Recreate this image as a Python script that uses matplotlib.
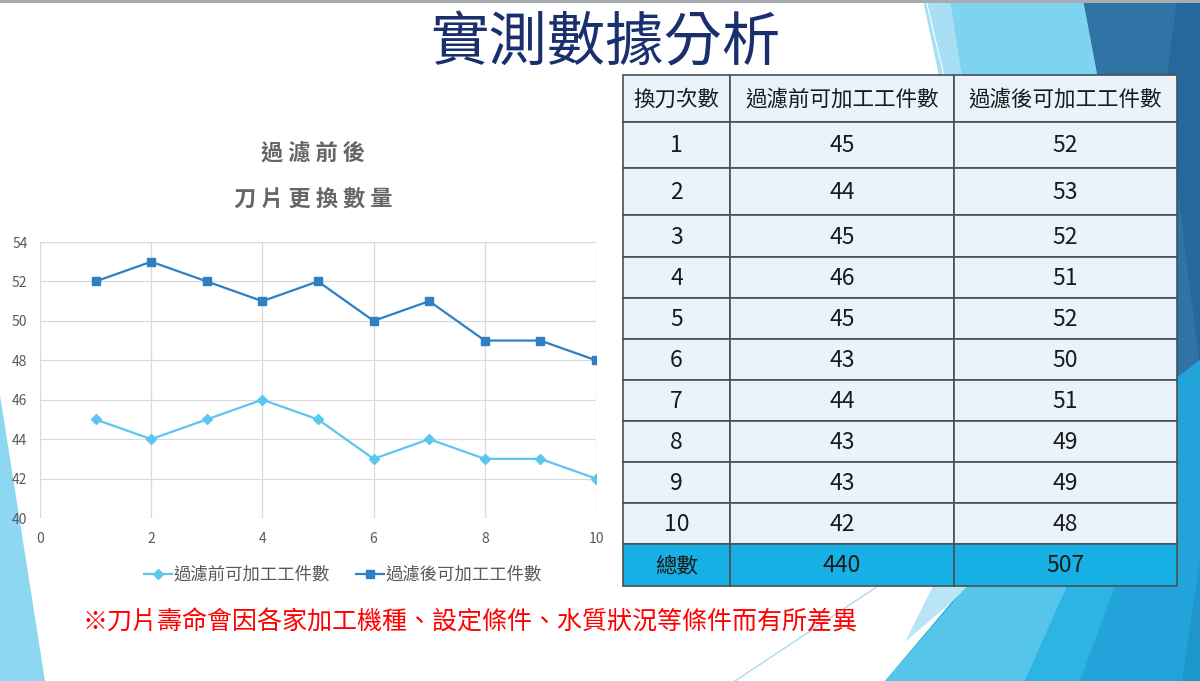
import matplotlib
matplotlib.use("Agg")
import matplotlib.pyplot as plt
from matplotlib.patches import Polygon, Rectangle

plt.rcParams['font.family'] = ['Noto Sans CJK TC', 'DejaVu Sans']

# data
runs = [1, 2, 3, 4, 5, 6, 7, 8, 9, 10]
before = [45, 44, 45, 46, 45, 43, 44, 43, 43, 42]
after = [52, 53, 52, 51, 52, 50, 51, 49, 49, 48]
col_names = ['換刀次數', '過濾前可加工工件數', '過濾後可加工工件數']
total_label = '總數'
page_title = '實測數據分析'
chart_title = ['過 濾 前 後', '刀 片 更 換 數 量']
note = '※刀片壽命會因各家加工機種、設定條件、水質狀況等條件而有所差異'

c_before = '#5cc6ee'
c_after = '#2e7fc3'

W, H = 1200, 681
fig = plt.figure(figsize=(W / 100, H / 100), dpi=100)

# background layer in pixel coords
bg = fig.add_axes([0, 0, 1, 1])
bg.set_xlim(0, W)
bg.set_ylim(H, 0)
bg.axis('off')

shapes = [
    ([(0, 395), (45, 681), (0, 681)], '#8dd7f2'),
    ([(923, 0), (952, 0), (966, 90), (942, 90)], '#a9dff4'),
    ([(950, 0), (1083, 0), (1100, 90), (964, 90)], '#7ed3f0'),
    ([(1083, 0), (1200, 0), (1200, 367), (1130, 470), (1100, 90)], '#2f74a5'),
    ([(1177, 0), (1200, 0), (1200, 367), (1165, 90)], '#26689b'),
    ([(1200, 360), (1200, 681), (885, 681), (1080, 450)], '#22a3da'),
    ([(933, 586), (970, 586), (905, 642)], '#b9e5f6'),
    ([(885, 681), (1050, 490), (1110, 490), (1025, 681)], '#55c5ea'),
    ([(1025, 681), (1110, 490), (1150, 490), (1080, 681)], '#2db4e4'),
    ([(1182, 681), (1200, 681), (1200, 560)], '#1d95cd'),
]
for pts, col in shapes:
    bg.add_patch(Polygon(pts, closed=True, facecolor=col, edgecolor='none',
                         zorder=0.5))
bg.plot([735, 1000], [681, 505], color='#a8dcef', lw=1, zorder=0.6)
bg.plot([926, 945], [0, 80], color='white', lw=0.8, zorder=0.6)
bg.add_patch(Rectangle((0, 0), W, 3, facecolor='#a8acb0', edgecolor='none'))

# page title
bg.text(605, 44, page_title, ha='center', va='center', fontsize=42,
        color='#1a2f6e', fontweight='light')

# table
col_x = [623, 730, 954, 1177]
row_h = [47, 46, 47, 42, 41, 41, 41, 41, 41, 41, 41, 42]
rows = [col_names] + [[str(r), str(b), str(a)] for r, b, a in zip(runs, before, after)]
rows.append([total_label, str(sum(before)), str(sum(after))])
y = 75
for i, (row, h) in enumerate(zip(rows, row_h)):
    fill = '#17b0e4' if i == len(rows) - 1 else '#e9f3fb'
    for j, val in enumerate(row):
        x0, x1 = col_x[j], col_x[j + 1]
        bg.add_patch(Rectangle((x0, y), x1 - x0, h, facecolor=fill,
                               edgecolor='#4a4f55', lw=1.2, zorder=3))
        if i == 0 or (i == len(rows) - 1 and j == 0):
            fs = 15.5
        else:
            fs = 16.5
        bg.text((x0 + x1) / 2, y + h / 2 + 1, val, ha='center', va='center',
                fontsize=fs, color='#1a1a1a', zorder=4)
    y += h

# footnote
bg.text(82, 623, note, ha='left', va='center', fontsize=18, color='#ff0000',
        fontweight='light')

# chart
ax = fig.add_axes([40 / W, 1 - 518 / H, (596 - 40) / W, (518 - 242) / H])
ax.set_facecolor('none')
ax.plot(runs, before, color=c_before, lw=1.6, marker='D', ms=5,
        label='過濾前可加工工件數')
ax.plot(runs, after, color=c_after, lw=1.6, marker='s', ms=6,
        label='過濾後可加工工件數')
ax.set_xlim(0, 10)
ax.set_ylim(40, 54)
ax.set_xticks(range(0, 11, 2))
ax.set_yticks(range(40, 55, 2))
ax.grid(True, color='#d9d9d9', lw=0.9)
ax.set_axisbelow(True)
for s in ax.spines.values():
    s.set_visible(False)
ax.tick_params(length=0, labelsize=10, labelcolor='#595959')
ax.tick_params(axis='y', pad=9)
ax.tick_params(axis='x', pad=10)

bg.text(313, 153, chart_title[0], ha='center', va='center', fontsize=16,
        color='#666666', fontweight='bold')
bg.text(313, 199, chart_title[1], ha='center', va='center', fontsize=16,
        color='#666666', fontweight='bold')

leg = ax.legend(loc='center', bbox_to_anchor=(343 / W, 1 - 575 / H),
                bbox_transform=fig.transFigure, ncol=2, frameon=False,
                fontsize=12.5, handlelength=1.6, handletextpad=0.1,
                columnspacing=1.5)
for t in leg.get_texts():
    t.set_color('#595959')

fig.savefig('out.png', dpi=100)
